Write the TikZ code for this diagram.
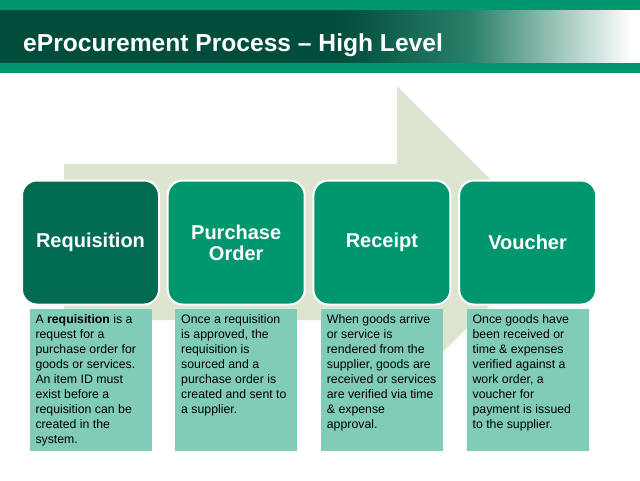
\documentclass[tikz,border=0pt]{standalone}
\usepackage{fontspec}
\setmainfont{Liberation Sans}
\usepackage{tikz}
\usetikzlibrary{positioning, shadows}
\definecolor{hdrgreen}{HTML}{00966E}
\definecolor{hdrdark}{HTML}{004D3B}
\definecolor{hdrmid}{HTML}{2A8069}
\definecolor{stagedark}{HTML}{006B50}
\definecolor{stagegreen}{HTML}{00966E}
\definecolor{notefill}{HTML}{80CCB9}
\definecolor{arrowfill}{HTML}{DDE5D1}

\newcommand{\notetext}[1]{\parbox[t][130pt][t]{110pt}{\raggedright #1}}

\begin{document}
\begin{tikzpicture}[
  x=1pt, y=-1pt,
  node distance=6.7pt,
  stage/.style={rectangle, rounded corners=15pt, fill=stagegreen, draw=white, line width=2pt, minimum width=137pt, minimum height=124pt, align=center, text=white, font=\fontsize{20}{21}\selectfont\bfseries, drop shadow={shadow xshift=0.6pt, shadow yshift=-0.8pt, opacity=0.3}},
  note/.style={rectangle, fill=notefill, inner xsep=6pt, inner ysep=6pt, outer sep=0pt, font=\fontsize{12.3}{15}\selectfont, text=black}
]
  \useasboundingbox (0,0) rectangle (640,480);

  % header
  \fill[hdrdark] (0,9) rectangle (341,64);
  \shade[left color=hdrdark, right color=hdrmid] (340,9) rectangle (471,64);
  \shade[left color=hdrmid, right color=white] (470,9) rectangle (632,64);
  \fill[white] (631.5,9) rectangle (640,64);
  \fill[hdrgreen] (0,0) rectangle (640,10);
  \fill[hdrgreen] (0,63) rectangle (640,73);
  \node[anchor=base west, inner sep=0pt, text=white, font=\fontsize{24.6}{28}\selectfont\bfseries] (title) at (23,51) {eProcurement Process – High Level};

  % background arrow
  \fill[arrowfill] (64,164) -- (397,164) -- (397,86) -- (553,242) -- (397,398) -- (397,320) -- (64,320) -- cycle;

  % stages
  \node[stage, fill=stagedark] (req) at (90.5,242.5) {Requisition};
  \node[stage, right=of req] (po) {Purchase\\Order};
  \node[stage, right=of po] (rcpt) {Receipt};
  \node[stage, right=of rcpt] (vchr) {Voucher};

  % descriptions
  \node[note, below=3.5pt of req] (reqnote) {\notetext{A \textbf{requisition} is a\\request for a\\purchase order for\\goods or services.\\An item ID must\\exist before a\\requisition can be\\created in the\\system.}};
  \node[note, below=3.5pt of po] (ponote) {\notetext{Once a requisition\\is approved, the\\requisition is\\sourced and a\\purchase order is\\created and sent to\\a supplier.}};
  \node[note, below=3.5pt of rcpt] (rcptnote) {\notetext{When goods arrive\\or service is\\rendered from the\\supplier, goods are\\received or services\\are verified via time\\\& expense\\approval.}};
  \node[note, below=3.5pt of vchr] (vchrnote) {\notetext{Once goods have\\been received or\\time \& expenses\\verified against a\\work order, a\\voucher for\\payment is issued\\to the supplier.}};
\end{tikzpicture}
\end{document}
